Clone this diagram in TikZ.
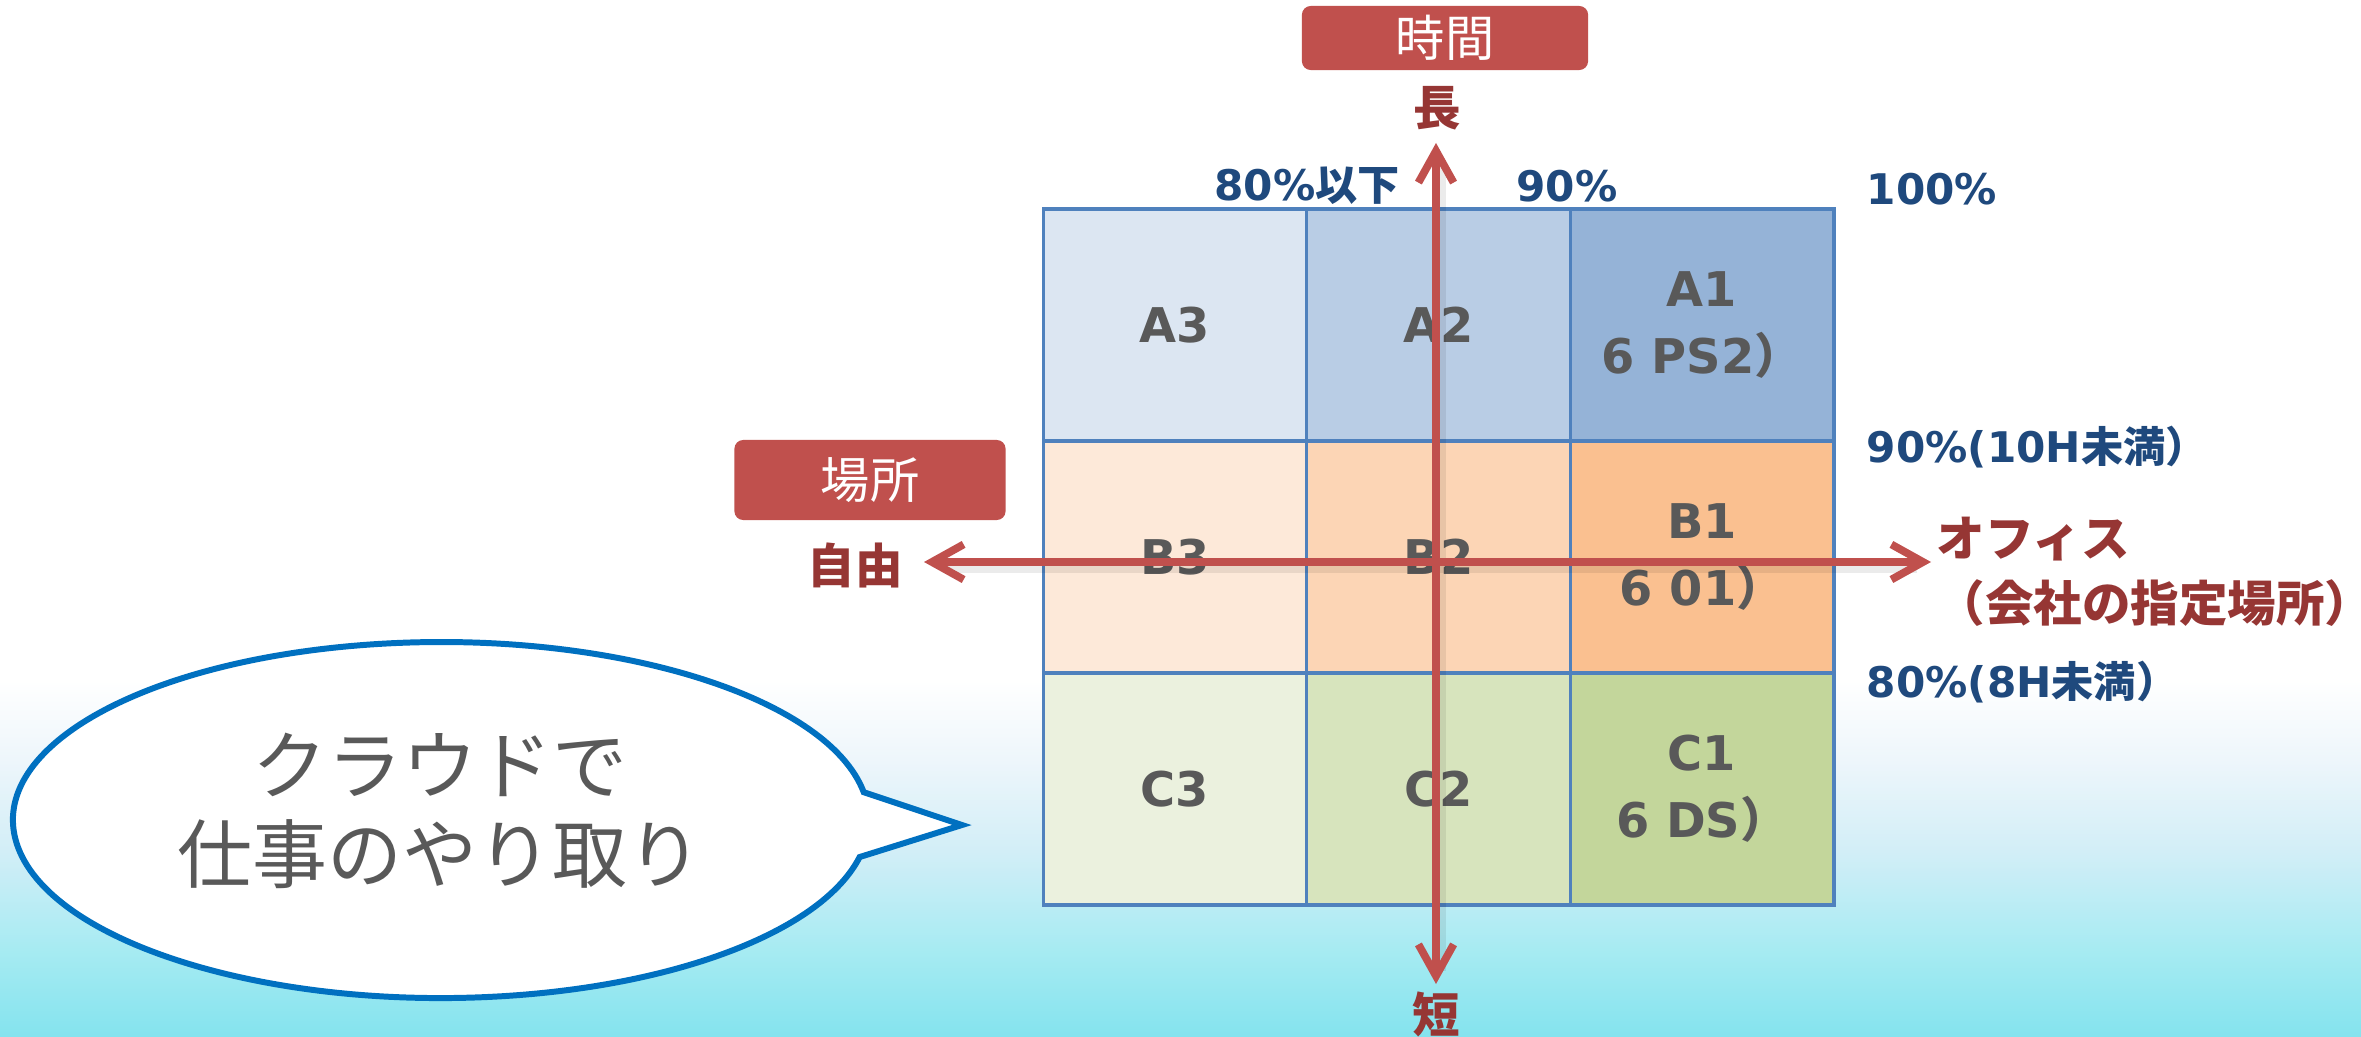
\documentclass[tikz,border=0pt]{standalone}
\usepackage{fontspec}
\setmainfont{DejaVu Sans}
\newfontfamily\jp{Noto Sans CJK JP}
\usetikzlibrary{arrows.meta}
\definecolor{cA3}{HTML}{DCE6F2}
\definecolor{cA2}{HTML}{B9CDE5}
\definecolor{cA1}{HTML}{95B3D7}
\definecolor{cB3}{HTML}{FDE9D9}
\definecolor{cB2}{HTML}{FCD5B5}
\definecolor{cB1}{HTML}{FAC090}
\definecolor{cC3}{HTML}{EBF1DE}
\definecolor{cC2}{HTML}{D7E4BD}
\definecolor{cC1}{HTML}{C3D69B}
\definecolor{gridline}{HTML}{4F81BD}
\definecolor{lblblue}{HTML}{1F497D}
\definecolor{arrred}{HTML}{C0504D}
\definecolor{dred}{HTML}{963634}
\definecolor{txtgray}{HTML}{595959}
\definecolor{cblue}{HTML}{0070C0}
\definecolor{bg1}{HTML}{84E3EE}
\definecolor{bg2}{HTML}{A6EBF2}
\definecolor{bg3}{HTML}{D2EEF7}
\definecolor{bg4}{HTML}{EEF6FB}
\pgfdeclareverticalshading{bgshade}{100bp}{color(0bp)=(bg1); color(25bp)=(bg1); color(37bp)=(bg2); color(51bp)=(bg3); color(64bp)=(bg4); color(75bp)=(white); color(100bp)=(white)}
\begin{document}
\begin{tikzpicture}[x=0.01cm,y=-0.01cm,
  cell/.style={draw=gridline,line width=0.9pt,minimum width=2.637cm,minimum height=2.32cm,inner sep=0pt,outer sep=0pt,
    font=\fontsize{13.6}{19}\selectfont\bfseries,text=txtgray,align=center},
  tagbox/.style={fill=arrred,rounded corners=2.5pt,text=white,font=\jp\fontsize{14}{16}\selectfont,inner sep=0pt},
  axislbl/.style={text=dred,font=\jp\bfseries\fontsize{13.5}{16}\selectfont,inner sep=0pt},
  pct/.style={text=lblblue,font=\fontsize{12}{14}\selectfont\bfseries,inner sep=0pt},
  axisarrow/.style={draw=arrred,line width=2.2pt,{Straight Barb[length=9pt,width=10pt]}-{Straight Barb[length=9pt,width=10pt]}},
  axisshadow/.style={draw=black,opacity=0.08,line width=3.6pt,shorten <=5pt,shorten >=5pt},
  bubble/.style={draw=cblue,fill=white,line width=1.7pt,line join=miter}
]
% background
\useasboundingbox (0,0) rectangle (2361,1037);
\fill[white] (0,0) rectangle (2361,1037);
\shade[shading=bgshade] (0,680) rectangle (2361,1037);

% grid
\node[cell,fill=cA3] (a3) at (1175,325) {A3};
\node[cell,fill=cA2] (a2) at (1438.5,325) {A2};
\node[cell,fill=cA1] (a1) at (1702,325) {A1\\6 PS2{\jp\bfseries ）}};
\node[cell,fill=cB3] (b3) at (1175,557) {B3};
\node[cell,fill=cB2] (b2) at (1438.5,557) {B2};
\node[cell,fill=cB1] (b1) at (1702,557) {B1\\6 01{\jp\bfseries ）}};
\node[cell,fill=cC3] (c3) at (1175,789) {C3};
\node[cell,fill=cC2] (c2) at (1438.5,789) {C2};
\node[cell,fill=cC1] (c1) at (1702,789) {C1\\6 DS{\jp\bfseries ）}};

% percentage labels
\node[pct] (p80) at (1307,186) {80\%{\jp\bfseries 以下}};
\node[pct] (p90) at (1567,186) {90\%};
\node[pct,anchor=west] (p100) at (1866,189) {100\%};
\node[pct,anchor=west] (p90h) at (1866,447) {90\%(10H{\jp\bfseries 未満）}};
\node[pct,anchor=west] (p80h) at (1866,682) {80\%(8H{\jp\bfseries 未満）}};

% tag boxes
\node[tagbox,minimum width=2.86cm,minimum height=0.64cm] (time) at (1445,38) {時間};
\node[tagbox,minimum width=2.71cm,minimum height=0.80cm] (place) at (870,480) {場所};

% axis labels
\node[axislbl] (long) at (1437,108) {長};
\node[axislbl] (short) at (1436,1014) {短};
\node[axislbl] (free) at (855,565) {自由};
\node[text=dred,font=\jp\bfseries\fontsize{13.8}{18.5}\selectfont,inner sep=0pt,anchor=west,align=left] (office) at (1936,572) {オフィス\\（会社の指定場所）};

% axes
\coordinate (vt) at (1436,143);
\coordinate (vb) at (1436,984);
\coordinate (hl) at (924,562);
\coordinate (hr) at (1931,562);
\draw[axisshadow] ([shift={(4,5)}]vt) -- ([shift={(4,5)}]vb);
\draw[axisshadow] ([shift={(4,5)}]hl) -- ([shift={(4,5)}]hr);
\draw[axisarrow] (vb) -- (vt);
\draw[axisarrow] (hl) -- (hr);

% speech bubble
\coordinate (tip) at (962,825);
\draw[bubble] (863.7,792.2) arc[start angle=-9,end angle=-348,x radius=428,y radius=178] -- (tip) -- cycle;
\node[text=txtgray,font=\jp\fontsize{21.3}{25.3}\selectfont,align=center,inner sep=0pt] (say) at (440,811) {クラウドで\\仕事のやり取り};
\end{tikzpicture}
\end{document}
